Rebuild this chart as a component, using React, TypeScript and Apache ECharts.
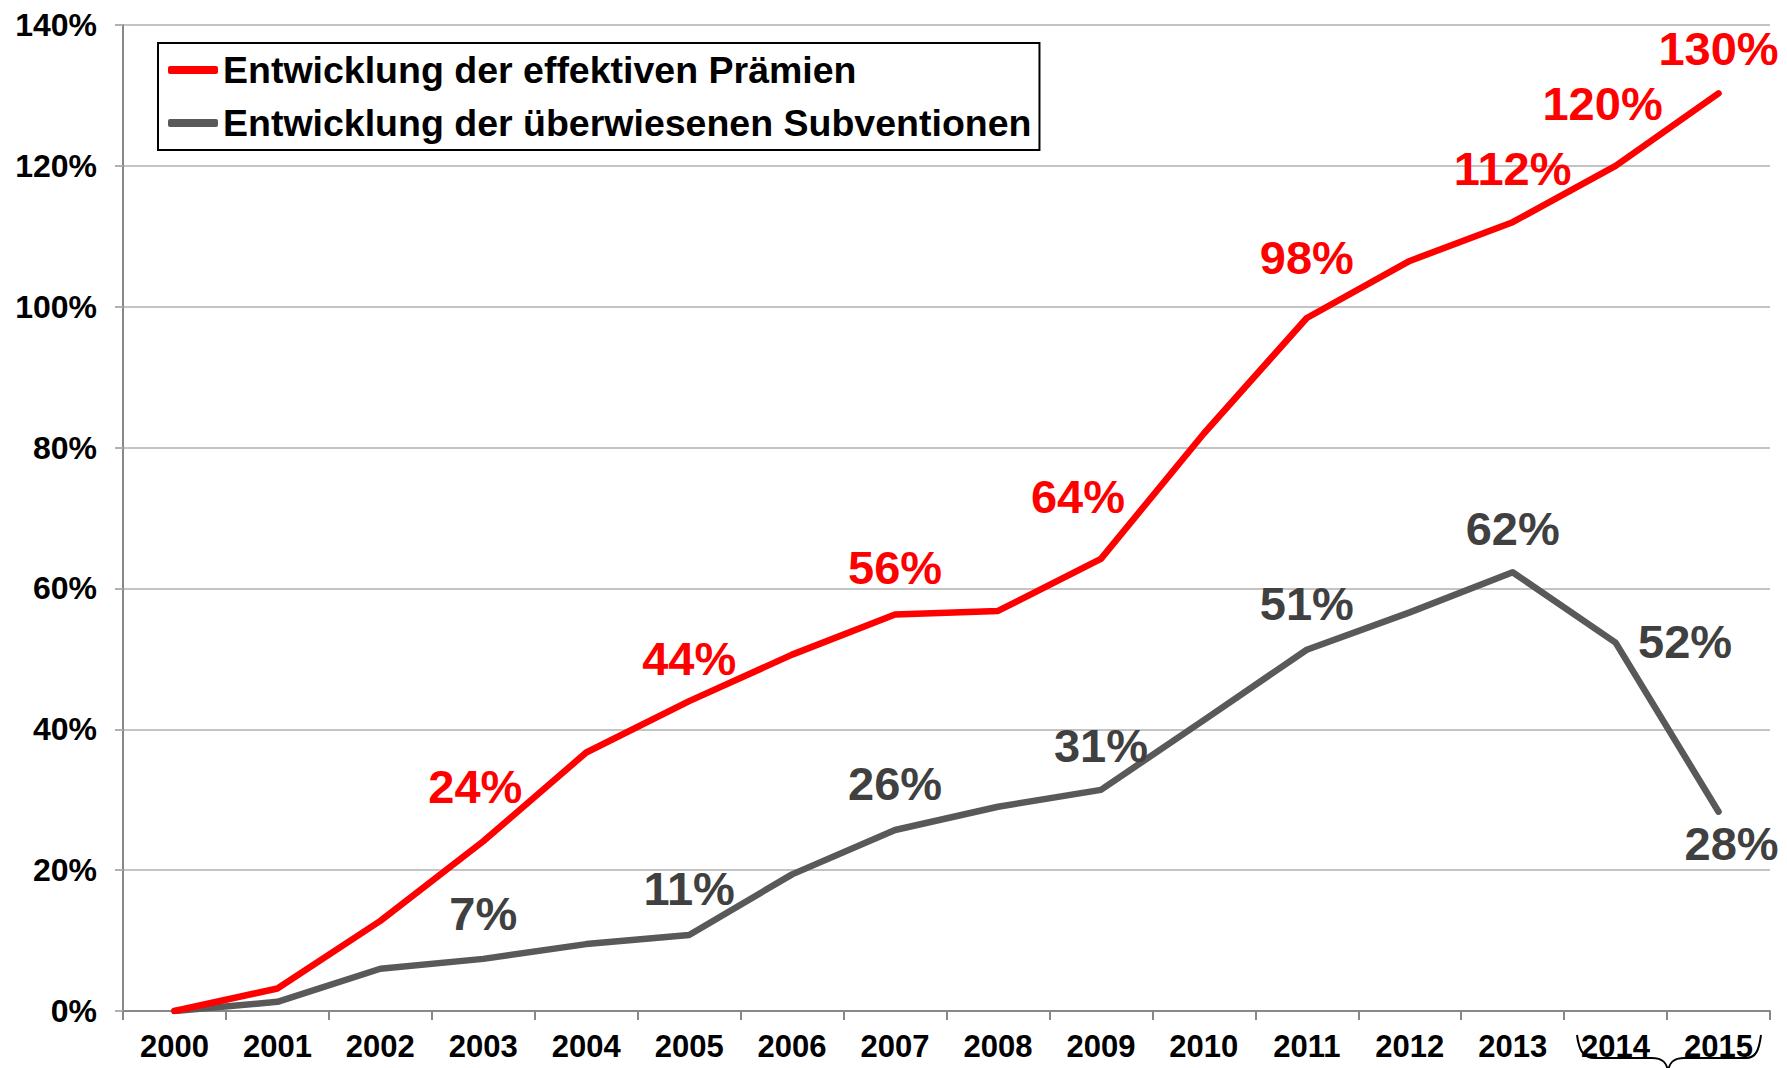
import React, { useEffect, useRef } from "react";
import * as echarts from "echarts";

const years = ["2000", "2001", "2002", "2003", "2004", "2005", "2006", "2007", "2008", "2009", "2010", "2011", "2012", "2013", "2014", "2015"];
const premiums = [0, 3.2, 12.8, 24.1, 36.7, 44.0, 50.6, 56.3, 56.8, 64.2, 82.0, 98.4, 106.5, 112.0, 120.0, 130.3];
const subsidies = [0, 1.3, 6.0, 7.4, 9.5, 10.8, 19.4, 25.7, 29.0, 31.4, 41.3, 51.3, 56.6, 62.3, 52.3, 28.3];
const premiumLabelYears = ["2003", "2005", "2007", "2009", "2011", "2013", "2014", "2015"];
const subsidyLabelYears = ["2003", "2005", "2007", "2009", "2011", "2013", "2014", "2015"];
const seriesNames = ["Entwicklung der effektiven Prämien", "Entwicklung der überwiesenen Subventionen"];
const yMin = 0;
const yMax = 140;
const yInterval = 20;

// label placement styles (pixel nudges, not data)
const premiumLabelNudge: Record<string, any> = {
  "2003": { offset: [-8, -9] },
  "2005": { offset: [0, 3] },
  "2007": { offset: [0, -1] },
  "2009": { offset: [-23, -16] },
  "2011": { offset: [0, -14] },
  "2013": { offset: [0, -8] },
  "2014": { offset: [-13, -16] },
  "2015": { offset: [0, 1] },
};
const subsidyLabelNudge: Record<string, any> = {
  "2003": { offset: [0, 1] },
  "2005": { offset: [0, 0] },
  "2007": { offset: [0, 0] },
  "2009": { offset: [0, 2] },
  "2011": { offset: [0, 0] },
  "2013": { offset: [0, 2] },
  "2014": { position: "right", distance: 22, offset: [0, -1] },
  "2015": { position: "bottom", distance: 8, offset: [13, 0] },
};

const FONT = "'Liberation Sans', Arial, sans-serif";
const RED = "#ff0000";
const GREY = "#595959";
const GREY_TEXT = "#404040";

function buildData(values: number[], labelYears: string[], nudge: Record<string, any>, color: string) {
  return values.map((v, i) => {
    const y = years[i];
    if (labelYears.indexOf(y) >= 0) {
      return {
        value: v,
        label: {
          show: true,
          position: "top",
          distance: 22,
          color,
          fontSize: 47,
          fontWeight: "bold",
          fontFamily: FONT,
          formatter: (p: any) => Math.round(p.value) + "%",
          ...(nudge[y] || {}),
        },
      };
    }
    return { value: v };
  });
}

export default function App() {
  const ref = useRef<HTMLDivElement>(null);
  useEffect(() => {
    if (!ref.current) return;
    const chart = echarts.init(ref.current, null, { renderer: "svg" });
    const braceStyle = { stroke: "#000", lineWidth: 2, fill: null };
    chart.setOption({
      animation: false,
      backgroundColor: "#ffffff",
      textStyle: { fontFamily: FONT },
      grid: { left: 123, right: 17, top: 25, bottom: 57 },
      legend: {
        orient: "vertical",
        left: 158,
        top: 43,
        padding: [8, 8, 8, 10],
        borderColor: "#000",
        borderWidth: 2,
        itemGap: 15,
        itemWidth: 50,
        itemHeight: 8,
        icon: "roundRect",
        data: seriesNames,
        textStyle: { fontSize: 37.5, fontWeight: "bold", color: "#000", fontFamily: FONT },
      },
      xAxis: {
        type: "category",
        data: years,
        boundaryGap: true,
        axisLine: { lineStyle: { color: "#888", width: 2 } },
        axisTick: { show: true, alignWithLabel: false, length: 9, lineStyle: { color: "#888", width: 2 } },
        axisLabel: { fontSize: 31, fontWeight: "bold", color: "#000", margin: 20, fontFamily: FONT, interval: 0 },
      },
      yAxis: {
        type: "value",
        min: yMin,
        max: yMax,
        interval: yInterval,
        axisLine: { show: true, lineStyle: { color: "#888", width: 2 } },
        axisTick: { show: true, length: 8, lineStyle: { color: "#b0b0b0", width: 2 } },
        splitLine: { show: true, lineStyle: { color: "#b0b0b0", width: 1.5 } },
        axisLabel: { fontSize: 32, fontWeight: "bold", color: "#000", margin: 26, fontFamily: FONT, formatter: "{value}%" },
      },
      series: [
        {
          name: seriesNames[0],
          type: "line",
          data: buildData(premiums, premiumLabelYears, premiumLabelNudge, RED),
          symbol: "circle",
          symbolSize: 1,
          itemStyle: { color: RED },
          lineStyle: { color: RED, width: 6.5, cap: "round", join: "round" },
          z: 3,
        },
        {
          name: seriesNames[1],
          type: "line",
          data: buildData(subsidies, subsidyLabelYears, subsidyLabelNudge, GREY_TEXT),
          symbol: "circle",
          symbolSize: 1,
          itemStyle: { color: GREY },
          lineStyle: { color: GREY, width: 6.5, cap: "round", join: "round" },
          z: 2,
        },
      ],
      graphic: [
        { type: "bezierCurve", shape: { x1: 1577, y1: 1035, cpx1: 1579, cpy1: 1050, cpx2: 1583, cpy2: 1058, x2: 1595, y2: 1058 }, style: braceStyle, z: 10 },
        { type: "line", shape: { x1: 1595, y1: 1058, x2: 1652, y2: 1058 }, style: braceStyle, z: 10 },
        { type: "bezierCurve", shape: { x1: 1652, y1: 1058, cpx1: 1663, cpy1: 1058, cpx2: 1667, cpy2: 1063, x2: 1668, y2: 1072 }, style: braceStyle, z: 10 },
        { type: "bezierCurve", shape: { x1: 1668, y1: 1072, cpx1: 1669, cpy1: 1063, cpx2: 1673, cpy2: 1058, x2: 1684, y2: 1058 }, style: braceStyle, z: 10 },
        { type: "line", shape: { x1: 1684, y1: 1058, x2: 1746, y2: 1058 }, style: braceStyle, z: 10 },
        { type: "bezierCurve", shape: { x1: 1746, y1: 1058, cpx1: 1756, cpy1: 1058, cpx2: 1759, cpy2: 1050, x2: 1761, y2: 1035 }, style: braceStyle, z: 10 },
      ],
    });
    return () => chart.dispose();
  }, []);
  return <div ref={ref} style={{ position: "fixed", left: 0, top: 0, width: 1787, height: 1068, background: "#fff" }} />;
}
